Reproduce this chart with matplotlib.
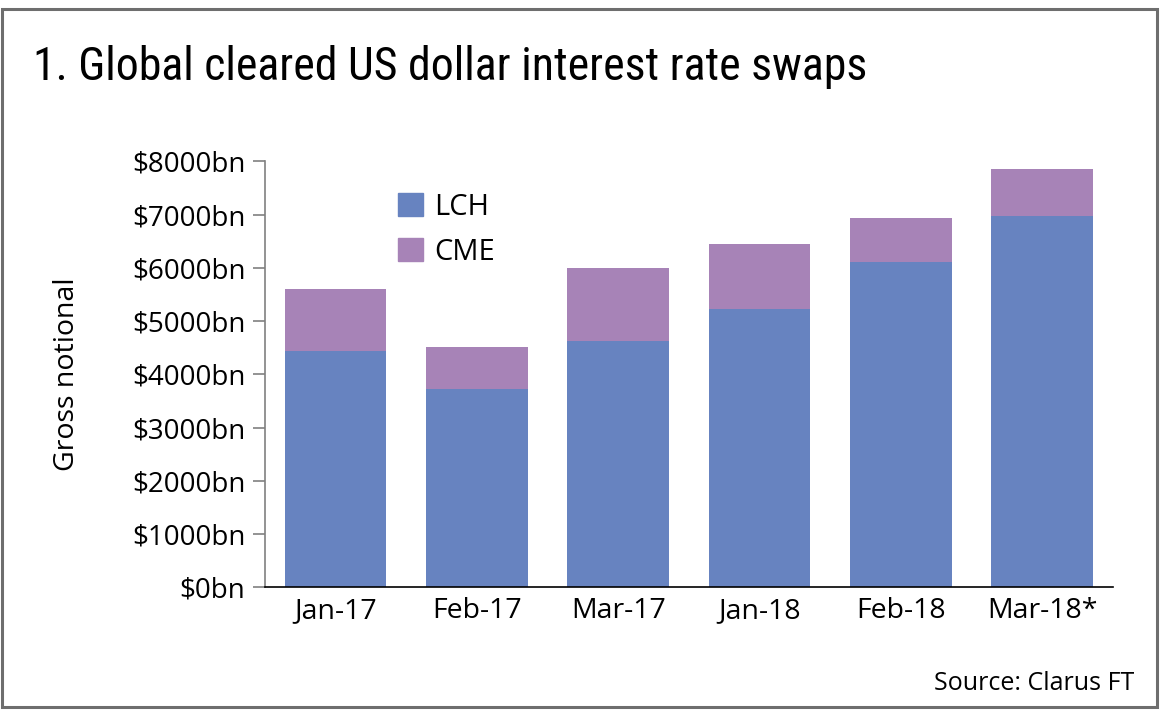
import matplotlib
matplotlib.use("Agg")
import matplotlib.pyplot as plt
from matplotlib import font_manager
from matplotlib.font_manager import FontProperties
from matplotlib.patches import Rectangle, Patch

# data ($bn)
months = ["Jan-17", "Feb-17", "Mar-17", "Jan-18", "Feb-18", "Mar-18*"]
lch = [4440, 3720, 4625, 5230, 6100, 6975]
total = [5600, 4520, 5990, 6450, 6930, 7860]
cme = [t - l for t, l in zip(total, lch)]
yticks = [0, 1000, 2000, 3000, 4000, 5000, 6000, 7000, 8000]

lch_color = "#6783c0"
cme_color = "#a783b7"


# look for a narrow/condensed face for the title (Frutiger Condensed look-alike)
def find_condensed():
    narrow = ("condensed", "semi-condensed", "extra-condensed", "ultra-condensed")
    prefs = ["Roboto", "Open Sans", "Noto Sans", "Liberation Sans", "DejaVu Sans", "Lato", "Inter"]
    found = [f for f in font_manager.fontManager.ttflist
             if (str(f.stretch) in narrow or "Narrow" in f.name or "Condensed" in f.name)
             and f.weight in (400, "normal", "regular") and f.style == "normal"]
    for p in prefs:
        for f in found:
            if f.name.startswith(p):
                return FontProperties(fname=f.fname)
    if found:
        return FontProperties(fname=found[0].fname)
    return FontProperties(family="DejaVu Sans", stretch="condensed")


title_fp = find_condensed()
body_font = ["Open Sans", "DejaVu Sans"]

fig = plt.figure(figsize=(11.6, 7.16), dpi=100)
ax = fig.add_axes([0.2282, 0.1797, 0.7313, 0.5950])

x = range(len(months))
ax.bar(x, lch, width=0.72, color=lch_color, label="LCH")
ax.bar(x, cme, width=0.72, bottom=lch, color=cme_color, label="CME")

ax.set_xlim(-0.5, 5.5)
ax.set_ylim(0, 8000)
ax.set_yticks(yticks)
ax.set_yticklabels([f"${v}bn" for v in yticks], fontfamily=body_font, fontsize=20)
ax.set_xticks(list(x))
ax.set_xticklabels(months, fontfamily=body_font, fontsize=20.5)
ax.tick_params(axis="y", direction="out", length=9, width=1.2, color="#808080", pad=5)
ax.tick_params(axis="x", length=0, pad=7)

for s in ["top", "right"]:
    ax.spines[s].set_visible(False)
ax.spines["left"].set_color("#808080")
ax.spines["left"].set_linewidth(1.2)
ax.spines["bottom"].set_color("black")
ax.spines["bottom"].set_linewidth(1.2)

ax.set_ylabel("Gross notional", fontfamily=body_font, fontsize=20.5)
ax.yaxis.set_label_coords(-0.217, 0.5)

handles = [Patch(color=lch_color, label="LCH"), Patch(color=cme_color, label="CME")]
ax.legend(handles=handles, loc="upper left", bbox_to_anchor=(0.126, 0.988),
          frameon=False, prop={"family": body_font, "size": 21},
          handlelength=0.85, handleheight=0.85, handletextpad=0.4, labelspacing=0.55)

fig.text(0.0285, 0.8885, "1. Global cleared US dollar interest rate swaps",
         fontproperties=title_fp, fontsize=33, va="baseline", ha="left")
fig.text(0.978, 0.045, "Source: Clarus FT", fontfamily=body_font,
         fontsize=18, ha="right", va="center")

fig.patches.append(Rectangle((0.002, 0.013), 0.995, 0.975, transform=fig.transFigure,
                             fill=False, edgecolor="#6e6e6e", linewidth=2.2))

fig.savefig("out.png", dpi=100)
